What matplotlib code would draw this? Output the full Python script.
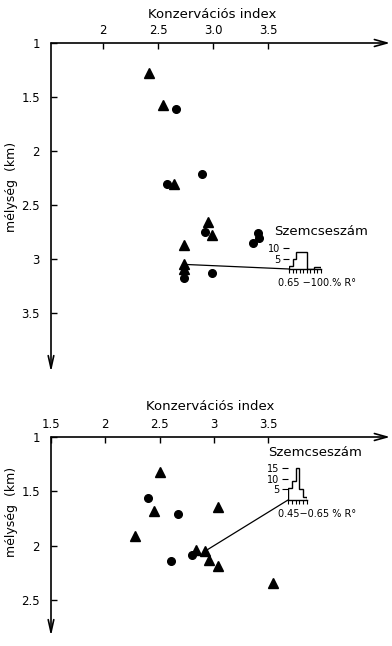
import matplotlib
matplotlib.use("Agg")
import matplotlib.pyplot as plt
from matplotlib.patches import ConnectionPatch

# ---------------- data ----------------
top_tri_x = [2.42, 2.55, 2.65, 2.95, 2.99, 2.74, 2.74, 2.74]
top_tri_y = [1.28, 1.57, 2.31, 2.66, 2.78, 2.87, 3.05, 3.09]
top_cir_x = [2.66, 2.90, 2.58, 2.93, 3.41, 3.42, 3.36, 2.74, 2.99]
top_cir_y = [1.61, 2.21, 2.31, 2.75, 2.76, 2.81, 2.85, 3.18, 3.13]
top_link = (2.74, 3.05)

bot_tri_x = [2.50, 2.45, 3.04, 2.27, 2.84, 2.92, 2.96, 3.04, 3.55]
bot_tri_y = [1.32, 1.68, 1.64, 1.91, 2.04, 2.05, 2.13, 2.19, 2.34]
bot_cir_x = [2.39, 2.67, 2.61, 2.80]
bot_cir_y = [1.56, 1.71, 2.14, 2.09]
bot_link = (2.92, 2.05)

top_hist_counts = [1.5, 5, 8, 8, 8, 0, 0, 1, 1]
bot_hist_counts = [5.5, 9, 15, 5, 1.5]

top_xticks = [2, 2.5, 3, 3.5]
top_xlabels = ["2", "2.5", "3.0", "3.5"]
top_yticks = [1, 1.5, 2, 2.5, 3, 3.5]
top_ylabels = ["1", "1.5", "2", "2.5", "3", "3.5"]
bot_xticks = [1.5, 2, 2.5, 3, 3.5]
bot_xlabels = ["1.5", "2", "2.5", "3", "3.5"]
bot_yticks = [1, 1.5, 2, 2.5]
bot_ylabels = ["1", "1.5", "2", "2.5"]

x_title = "Konzervációs index"
y_title = "mélység  (km)"
inset_title = "Szemcseszám"
top_inset_caption = "0.65 −100.% R°"
bot_inset_caption = "0.45−0.65 % R°"

# ---------------- layout helpers ----------------
W, H = 392, 646
plt.rcParams['font.family'] = ['DejaVu Sans']
fig = plt.figure(figsize=(W / 100, H / 100), dpi=100)


def rect(x0, y0, x1, y1):
    return [x0 / W, 1 - y1 / H, (x1 - x0) / W, (y1 - y0) / H]


def fx(px):
    return px / W


def fy(py):
    return 1 - py / H


def main_axes(r, xlim, ylim, xticks, xlabels, yticks, ylabels):
    ax = fig.add_axes(r)
    ax.set_xlim(*xlim)
    ax.set_ylim(*ylim)
    for s in ax.spines.values():
        s.set_visible(False)
    ax.xaxis.tick_top()
    ax.set_xticks(xticks)
    ax.set_xticklabels(xlabels)
    ax.set_yticks(yticks)
    ax.set_yticklabels(ylabels)
    ax.tick_params(axis='x', direction='in', length=4, width=1, pad=4, labelsize=8.5)
    ax.tick_params(axis='y', direction='in', length=4, width=1, pad=8, labelsize=8.5)
    ax.patch.set_alpha(0)
    # axis arrows
    ax.annotate('', xy=(1, 1), xytext=(0, 1), xycoords='axes fraction',
                arrowprops=dict(arrowstyle='->,head_length=0.9,head_width=0.25',
                                lw=1.2, color='black', shrinkA=0, shrinkB=0))
    ax.annotate('', xy=(0, 0), xytext=(0, 1), xycoords='axes fraction',
                arrowprops=dict(arrowstyle='->,head_length=0.9,head_width=0.2',
                                lw=1.2, color='black', shrinkA=0, shrinkB=0))
    return ax


def hist_inset(r, counts, ymax, yticks):
    ia = fig.add_axes(r)
    edges = list(range(len(counts) + 1))
    ia.stairs(counts, edges, color='black', lw=1, baseline=0)
    ia.set_xlim(0, len(counts))
    ia.set_ylim(0, ymax)
    for k in ('top', 'right', 'left'):
        ia.spines[k].set_visible(False)
    ia.spines['bottom'].set_linewidth(1)
    ia.set_xticks(edges)
    ia.set_xticklabels([])
    ia.tick_params(axis='x', direction='out', length=3, width=0.8)
    ia.set_yticks(yticks)
    ia.set_yticklabels([str(t) for t in yticks])
    ia.tick_params(axis='y', direction='out', length=4, width=0.8, pad=2, labelsize=7)
    ia.patch.set_alpha(0)
    return ia


# ---------------- top panel ----------------
ax1 = main_axes(rect(51, 43, 390, 372),
                (2 - 52 / 110, 2 - 52 / 110 + 339 / 110),
                (1 + 329 / 108, 1),
                top_xticks, top_xlabels, top_yticks, top_ylabels)
ax1.plot(top_tri_x, top_tri_y, linestyle='none', marker='^', ms=7, color='black')
ax1.plot(top_cir_x, top_cir_y, linestyle='none', marker='o', ms=5.5, color='black')

ins1 = hist_inset(rect(289, 244, 321, 269), top_hist_counts, 12, [5, 10])
con1 = ConnectionPatch(xyA=top_link, coordsA=ax1.transData,
                       xyB=(0, 0), coordsB=ins1.transData, color='black', lw=0.9)
fig.add_artist(con1)

fig.text(fx(212), fy(15), x_title, ha='center', va='center', fontsize=9.5)
fig.text(fx(12), fy(187), y_title, ha='center', va='center', rotation=90, fontsize=9)
fig.text(fx(274), fy(232), inset_title, ha='left', va='center', fontsize=9.5)
fig.text(fx(278), fy(283), top_inset_caption, ha='left', va='center', fontsize=7)

# ---------------- bottom panel ----------------
ax2 = main_axes(rect(51, 437, 390, 636),
                (1.5, 1.5 + 339 / 108.5),
                (1 + 199 / 108.7, 1),
                bot_xticks, bot_xlabels, bot_yticks, bot_ylabels)
ax2.plot(bot_tri_x, bot_tri_y, linestyle='none', marker='^', ms=7, color='black')
ax2.plot(bot_cir_x, bot_cir_y, linestyle='none', marker='o', ms=5.5, color='black')

ins2 = hist_inset(rect(288, 466, 307, 500), bot_hist_counts, 16, [5, 10, 15])
con2 = ConnectionPatch(xyA=bot_link, coordsA=ax2.transData,
                       xyB=(0, 0), coordsB=ins2.transData, color='black', lw=0.9)
fig.add_artist(con2)

fig.text(fx(210), fy(406), x_title, ha='center', va='center', fontsize=9.5)
fig.text(fx(12), fy(512), y_title, ha='center', va='center', rotation=90, fontsize=9)
fig.text(fx(268), fy(453), inset_title, ha='left', va='center', fontsize=9.5)
fig.text(fx(278), fy(514), bot_inset_caption, ha='left', va='center', fontsize=7)

fig.savefig('out.png', dpi=100)
